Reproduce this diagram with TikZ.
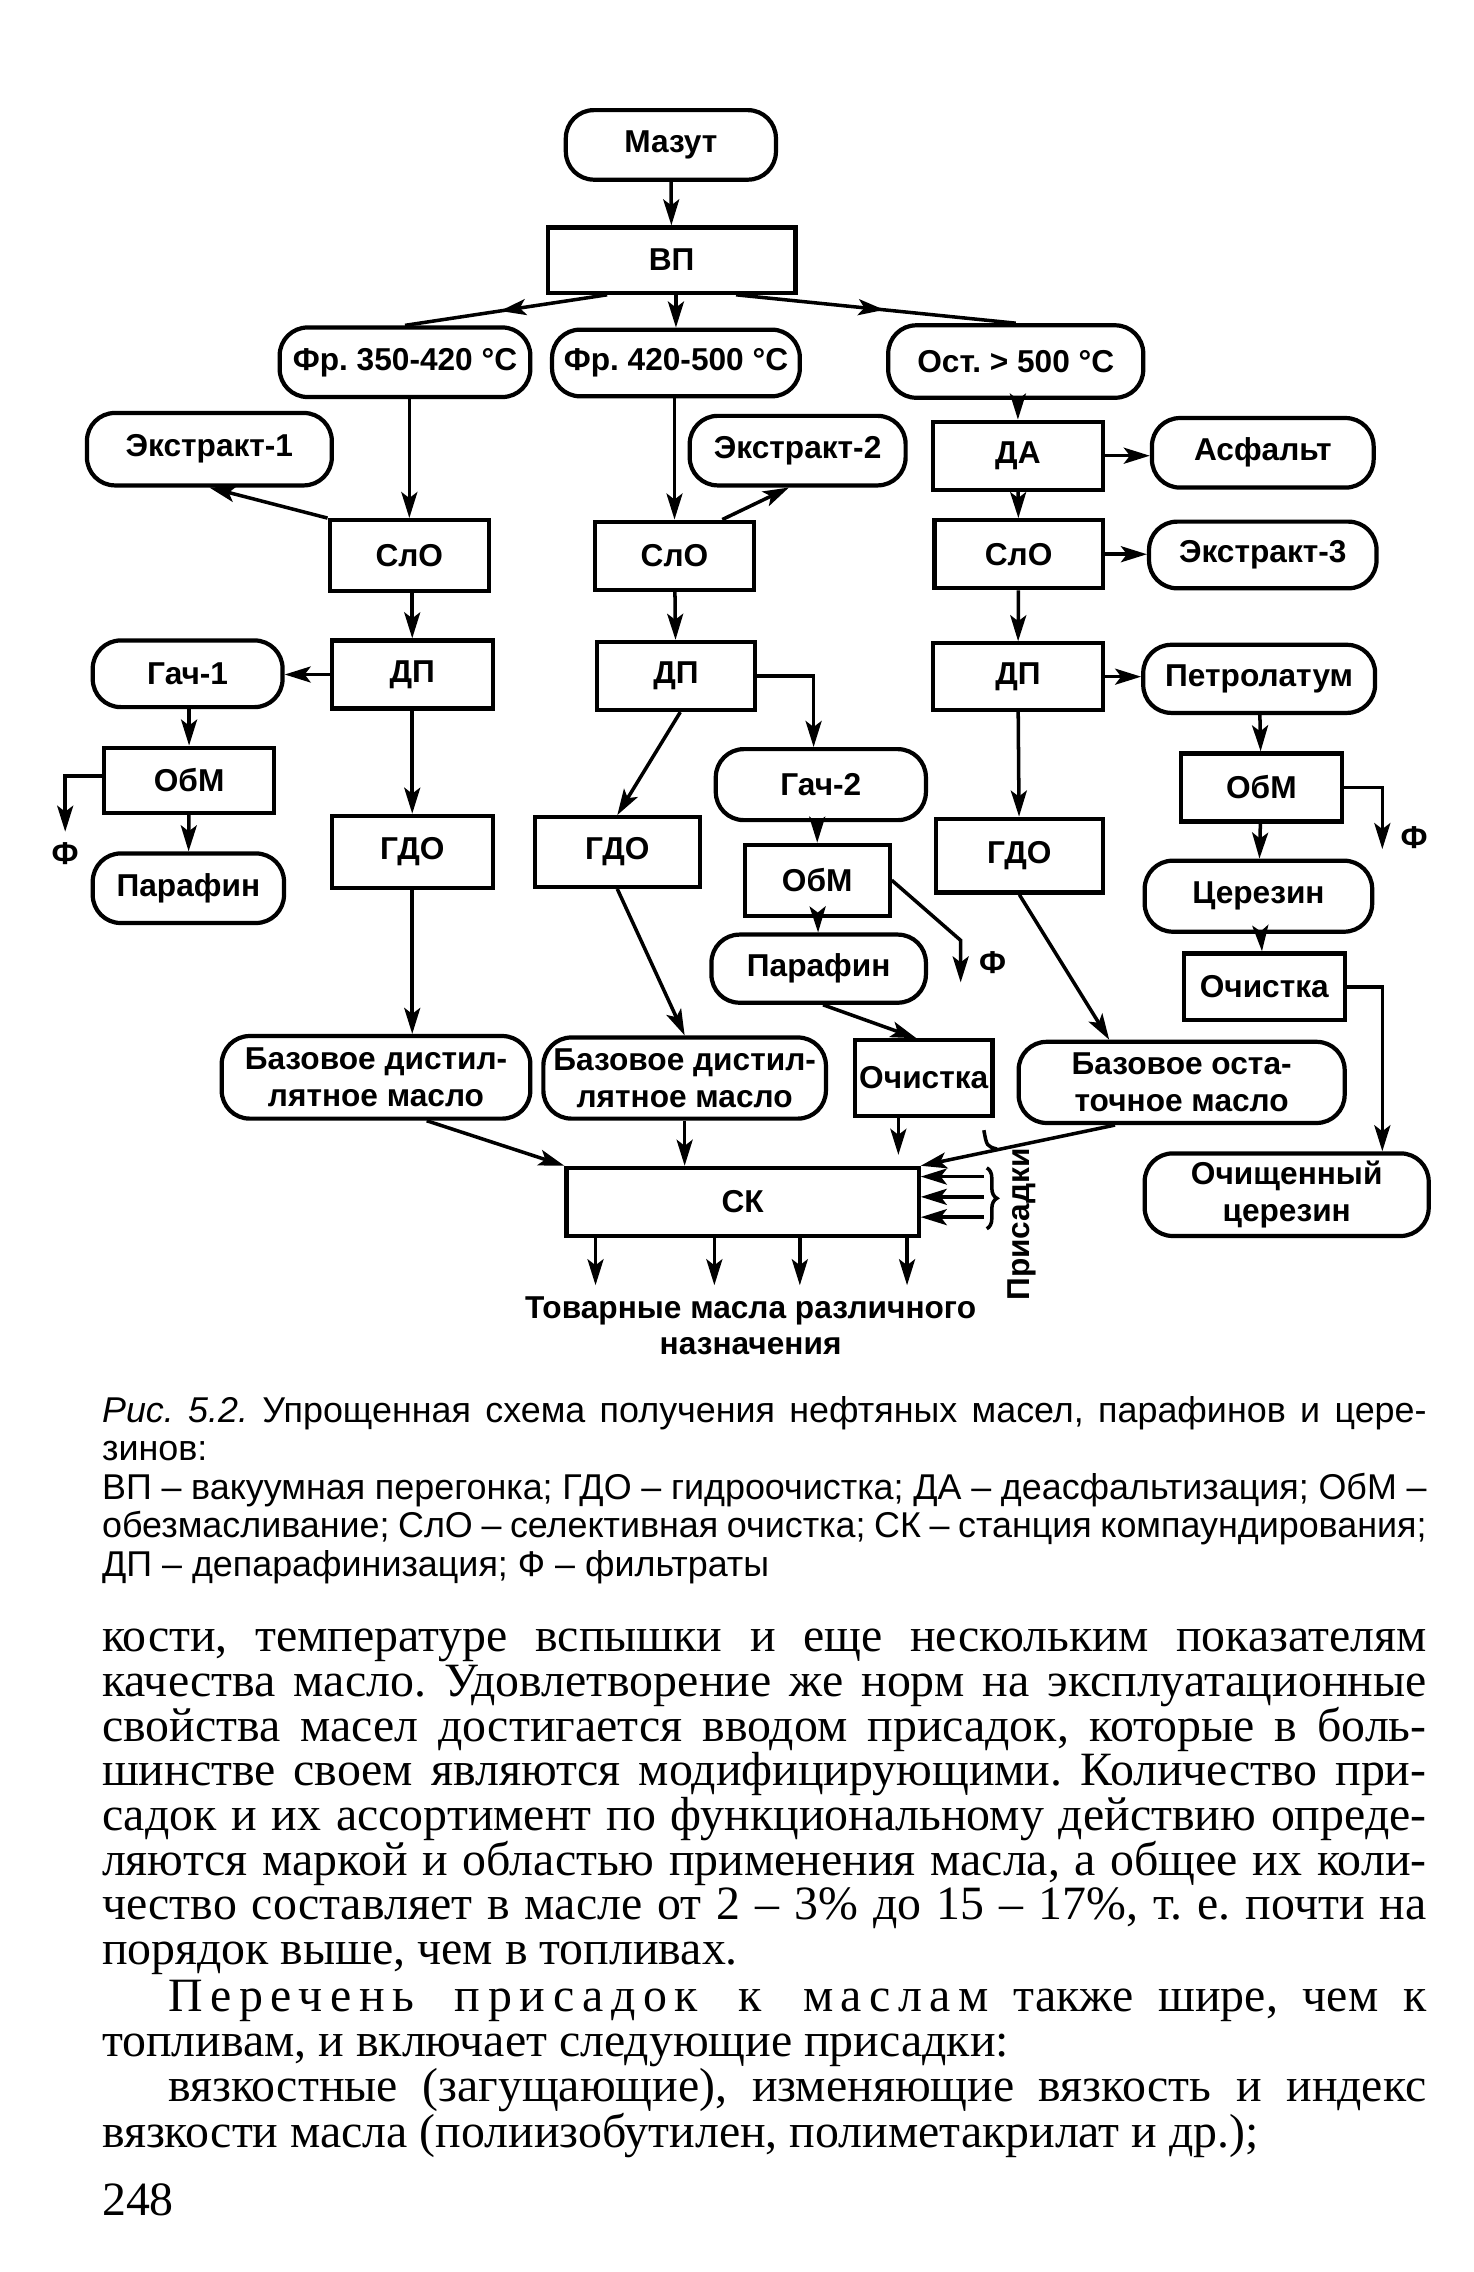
\documentclass[tikz,border=0pt]{standalone}
\usepackage{fontspec}
\setmainfont{Liberation Serif}
\setsansfont{Liberation Sans}
\usetikzlibrary{arrows.meta,decorations.markings,decorations.pathreplacing}
\newlength{\unitpx}
\setlength{\unitpx}{0.14484mm}
\frenchspacing

\begin{document}
\begin{tikzpicture}[x=0.14484mm,y=-0.14484mm,
	box/.style={draw, line width=1.2pt, inner sep=0pt,
		font=\sffamily\bfseries\fontsize{9}{10.5}\selectfont,
		minimum width=110\unitpx, minimum height=48\unitpx},
	oval/.style={box, rounded corners=2.8mm},
	conn/.style={line width=1pt},
	arr/.style={conn, -{Stealth[length=2.6mm,width=1.6mm,inset=0.6mm]}},
	midarr/.style={conn, postaction={decorate},
		decoration={markings, mark=at position 0.53 with {\arrow{Stealth[length=2.6mm,width=1.6mm,inset=0.6mm]}}}},
	lbl/.style={inner sep=0pt, font=\sffamily\bfseries\fontsize{9}{10}\selectfont},
	capt/.style={anchor=base west, inner sep=0pt, font=\sffamily\fontsize{10.2}{12}\selectfont},
	body/.style={anchor=base west, inner sep=0pt, font=\fontsize{13.6}{15}\selectfont}]
	\path[use as bounding box, fill=white] (0,0) rectangle (1017,1568);

	% upper part
	\node[oval, minimum width=145\unitpx] (mazut) at (463,100) {Мазут};
	\node[box, minimum width=171\unitpx, minimum height=45\unitpx] (vp) at (463.5,179.5) {ВП};
	\node[oval, minimum width=173\unitpx] (fr1) at (279.5,250) {Фр. 350-420 °C};
	\node[oval, minimum width=171\unitpx, minimum height=46\unitpx] (fr2) at (466.5,250.5) {Фр. 420-500 °C};
	\node[oval, minimum width=176\unitpx, minimum height=50\unitpx] (ost) at (701,249.5) {Ост. > 500 °C};

	% left column
	\node[oval, minimum width=169\unitpx, minimum height=50\unitpx] (ext1) at (144.5,310) {Экстракт-1};
	\node[box, minimum height=49\unitpx] (slo1) at (282.5,383.5) {СлО};
	\node[box, minimum width=111\unitpx, minimum height=47\unitpx] (dp1) at (284.5,465.5) {ДП};
	\node[oval, minimum width=131\unitpx, minimum height=46\unitpx] (gach1) at (129.5,465) {Гач-1};
	\node[box, minimum width=117\unitpx, minimum height=45\unitpx] (obm1) at (130.5,538.5) {ОбМ};
	\node[oval, minimum width=132\unitpx] (paraf1) at (130,613) {Парафин};
	\node[box, minimum width=111\unitpx, minimum height=50\unitpx] (gdo1) at (284.5,588) {ГДО};
	\node[oval, minimum width=213\unitpx, minimum height=57\unitpx, align=center] (base1) at (259.5,743.5) {Базовое дистил-\\лятное масло};
	\node[lbl] (phi1) at (45,589) {Ф};

	% middle column
	\node[oval, minimum width=149\unitpx] (ext2) at (550.5,311) {Экстракт-2};
	\node[box, minimum height=47\unitpx] (slo2) at (465.5,383.5) {СлО};
	\node[box, minimum width=109\unitpx, minimum height=47\unitpx] (dp2) at (466.5,466.5) {ДП};
	\node[box, minimum width=114\unitpx] (gdo2) at (426,588) {ГДО};
	\node[oval, minimum width=145\unitpx, minimum height=49\unitpx] (gach2) at (566.5,541.5) {Гач-2};
	\node[box, minimum width=100\unitpx, minimum height=49\unitpx] (obm2) at (564,607.5) {ОбМ};
	\node[oval, minimum width=148\unitpx, minimum height=47\unitpx] (paraf2) at (565,668.5) {Парафин};
	\node[box, minimum width=95\unitpx, minimum height=52\unitpx] (ochm) at (637.5,744) {Очистка};
	\node[oval, minimum width=195\unitpx, minimum height=56\unitpx, align=center] (base2) at (472.5,744) {Базовое дистил-\\лятное масло};
	\node[lbl] (phi2) at (685,664) {Ф};

	% right column
	\node[box, minimum width=117\unitpx, minimum height=47\unitpx] (da) at (702.5,314.5) {ДА};
	\node[oval, minimum width=153\unitpx] (asph) at (871.5,312.5) {Асфальт};
	\node[box, minimum width=116\unitpx, minimum height=47\unitpx] (slo3) at (703,382.5) {СлО};
	\node[oval, minimum width=157\unitpx, minimum height=46\unitpx] (ext3) at (871.5,383) {Экстракт-3};
	\node[box, minimum width=117\unitpx, minimum height=46\unitpx] (dp3) at (702.5,467) {ДП};
	\node[oval, minimum width=160\unitpx, minimum height=47\unitpx] (petr) at (869,468.5) {Петролатум};
	\node[box, minimum width=111\unitpx, minimum height=47\unitpx] (obm3) at (870.5,543.5) {ОбМ};
	\node[oval, minimum width=157\unitpx, minimum height=49\unitpx] (cer) at (868.5,618.5) {Церезин};
	\node[box, minimum width=111\unitpx, minimum height=46\unitpx] (ochr) at (872.5,681) {Очистка};
	\node[oval, minimum width=196\unitpx, minimum height=57\unitpx, align=center] (ochcer) at (888,824.5) {Очищенный\\церезин};
	\node[box, minimum width=115\unitpx, minimum height=51\unitpx] (gdo3) at (703.5,590.5) {ГДО};
	\node[oval, minimum width=225\unitpx, minimum height=56\unitpx, align=center] (base3) at (815.5,747) {Базовое оста-\\точное масло};
	\node[lbl] (phi3) at (976,578) {Ф};

	% compounding
	\node[box, minimum width=243\unitpx, minimum height=47\unitpx] (sk) at (512.5,829.5) {СК};
	\node[lbl, rotate=90] (prisad) at (705,845) {Присадки};
	\node[lbl, align=center] (tovar) at (518,915) {Товарные масла различного\\назначения};

	% connectors
	\draw[arr] (mazut) -- (vp);
	\draw[midarr] ([xshift=-44.5\unitpx]vp.south) -- (fr1.north);
	\draw[arr] (vp.south -| fr2.north) -- (fr2.north);
	\draw[midarr] ([xshift=44.5\unitpx]vp.south) -- (ost.north);
	\draw[arr] (fr1.south -| slo1.north) -- (slo1.north);
	\draw[arr] (slo1.north west) -- (ext1.south);
	\draw[arr] (fr2.south -| slo2.north) -- (slo2.north);
	\draw[arr] ([xshift=33\unitpx]slo2.north) -- ([xshift=-6\unitpx]ext2.south);
	\draw[arr] (ost.south -| da.north) -- (da.north);
	\draw[arr] (da.east) -- (da.east -| asph.west);
	\draw[arr] (da) -- (slo3);
	\draw[arr] (slo3.east) -- (slo3.east -| ext3.west);

	\draw[arr] (slo1.south -| dp1.north) -- (dp1.north);
	\draw[arr] (dp1.west) -- (dp1.west -| gach1.east);
	\draw[arr] (gach1.south -| obm1.north) -- (obm1.north);
	\coordinate (f1) at (45,574);
	\draw[arr] ([yshift=3\unitpx]obm1.west) -| (f1);
	\draw[arr] (obm1) -- (paraf1);
	\draw[arr] (dp1) -- (gdo1);
	\draw[arr] (gdo1.south) -- (gdo1.south |- base1.north);

	\draw[arr] (slo2) -- (dp2);
	\draw[arr] ([xshift=3\unitpx]dp2.south) -- (gdo2.north);
	\coordinate (g2in) at ([xshift=-5\unitpx]gach2.north);
	\draw[arr] (dp2.east) -| (g2in);
	\draw[arr] (gach2.south -| obm2.north) -- (obm2.north);
	\coordinate (f2a) at (663,649);
	\coordinate (f2) at (663,678);
	\draw[arr] (obm2.east) -- (f2a) -- (f2);
	\draw[arr] (obm2) -- (paraf2);
	\draw[arr] ([xshift=3\unitpx]paraf2.south) -- ([xshift=-5\unitpx]ochm.north);
	\draw[arr] (gdo2.south) -- (base2.north);

	\draw[arr] (slo3) -- (dp3);
	\draw[arr] (dp3.east) -- (dp3.east -| petr.west);
	\draw[arr] (petr) -- (obm3);
	\coordinate (f3) at (954,586);
	\draw[arr] (obm3.east) -| (f3);
	\draw[arr] (obm3) -- (cer);
	\draw[arr] (cer) -- (ochr);
	\coordinate (oc) at ([xshift=66\unitpx]ochcer.north);
	\draw[arr] (ochr.east) -| (oc);
	\draw[arr] (dp3) -- (gdo3);
	\draw[arr] (gdo3.south) -- ([xshift=-50\unitpx]base3.north);

	\draw[arr] ([xshift=35\unitpx]base1.south) -- (sk.north west);
	\draw[arr] (base2.south) -- (base2.south |- sk.north);
	\coordinate (ochout) at (620,797);
	\draw[arr] (ochout |- ochm.south) -- (ochout);
	\draw[arr] ([xshift=-46\unitpx]base3.south) -- (sk.north east);
	\draw[conn] (679,780) .. controls (681,791) .. (688,793);
	\foreach \y [count=\i] in {812,826,840} {
		\coordinate (add\i) at (679,\y);
		\draw[arr] (add\i) -- (add\i -| sk.east);
	}
	\draw[conn, decorate, decoration={brace, amplitude=7\unitpx}] (681,806) -- (681,848);
	\foreach \x [count=\i] in {411,493,552,626} {
		\coordinate (out\i) at (\x,887);
		\draw[arr] (out\i |- sk.south) -- (out\i);
	}

	% caption
	\node[capt] (cap1) at (70,982) {\makebox[914\unitpx][s]{\textit{Рис. 5.2.} Упрощенная схема получения нефтяных масел, парафинов и цере-}};
	\node[capt] (cap2) at (70,1008) {зинов:};
	\node[capt] (cap3) at (70,1035) {\makebox[914\unitpx][s]{ВП – вакуумная перегонка; ГДО – гидроочистка; ДА – деасфальтизация; ОбМ –}};
	\node[capt] (cap4) at (70,1061) {\makebox[914\unitpx][s]{обезмасливание; СлО – селективная очистка; СК – станция компаундирования;}};
	\node[capt] (cap5) at (70,1088) {ДП – депарафинизация; Ф – фильтраты};

	% page text
	\node[body] (t1) at (70,1140) {\makebox[914\unitpx][s]{кости, температуре вспышки и еще нескольким показателям}};
	\node[body] (t2) at (70,1171) {\makebox[914\unitpx][s]{качества масло. Удовлетворение же норм на эксплуатационные}};
	\node[body] (t3) at (70,1202) {\makebox[914\unitpx][s]{свойства масел достигается вводом присадок, которые в боль-}};
	\node[body] (t4) at (70,1232) {\makebox[914\unitpx][s]{шинстве своем являются модифицирующими. Количество при-}};
	\node[body] (t5) at (70,1263) {\makebox[914\unitpx][s]{садок и их ассортимент по функциональному действию опреде-}};
	\node[body] (t6) at (70,1294) {\makebox[914\unitpx][s]{ляются маркой и областью применения масла, а общее их коли-}};
	\node[body] (t7) at (70,1325) {\makebox[914\unitpx][s]{чество составляет в масле от 2 – 3\% до 15 – 17\%, т. е. почти на}};
	\node[body] (t8) at (70,1356) {порядок выше, чем в топливах.};
	\node[body] (t9) at (115.6,1388) {\makebox[868.4\unitpx][s]{{\addfontfeature{LetterSpace=16}Перечень присадок к маслам} также шире, чем к}};
	\node[body] (t10) at (70,1419) {топливам, и включает следующие присадки:};
	\node[body] (t11) at (115.6,1450) {\makebox[868.4\unitpx][s]{вязкостные (загущающие), изменяющие вязкость и индекс}};
	\node[body] (t12) at (70,1482) {вязкости масла (полиизобутилен, полиметакрилат и др.);};
	\node[body] (page) at (70,1529) {248};
\end{tikzpicture}
\end{document}
